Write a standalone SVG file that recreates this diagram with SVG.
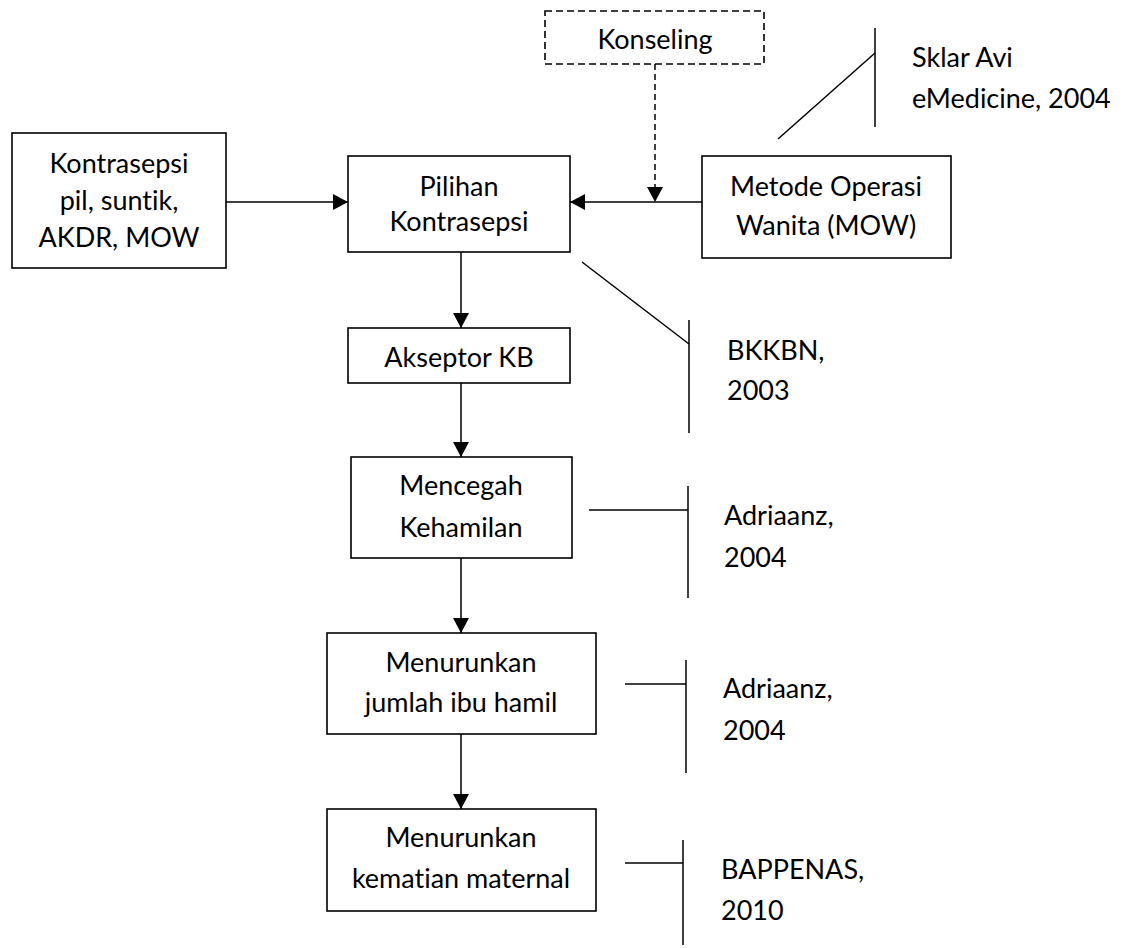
<svg xmlns="http://www.w3.org/2000/svg" width="1126" height="948" viewBox="0 0 1126 948">
<style>
  .box { fill: #ffffff; stroke: #000000; stroke-width: 1.6; }
  .dash { fill: #ffffff; stroke: #000000; stroke-width: 1.6; stroke-dasharray: 7 4; }
  .ln { fill: none; stroke: #000000; stroke-width: 1.5; }
  .arrow { fill: none; stroke: #000000; stroke-width: 1.5; marker-end: url(#ah); }
  .darrow { fill: none; stroke: #000000; stroke-width: 1.5; stroke-dasharray: 6 4; marker-end: url(#ah); }
  text { font-family: Lato, "Open Sans", "Liberation Sans", sans-serif; font-size: 27px; fill: #000000; font-variant-ligatures: none; }
  .c { text-anchor: middle; }
</style>
<defs>
  <marker id="ah" markerUnits="userSpaceOnUse" markerWidth="17" markerHeight="17" viewBox="0 0 17 17" refX="16" refY="8.5" orient="auto">
    <path d="M1,0.5 L16,8.5 L1,16.5 Z" fill="#000000"/>
  </marker>
</defs>
<rect width="1126" height="948" fill="#ffffff"/>

<g id="connectors">
  <line class="arrow" x1="226" y1="202" x2="348" y2="202"/>
  <line class="arrow" x1="702" y1="202" x2="570" y2="202"/>
  <line class="darrow" x1="655" y1="64" x2="655" y2="202"/>
  <line class="arrow" x1="461" y1="252" x2="461" y2="328"/>
  <line class="arrow" x1="461" y1="383" x2="461" y2="457"/>
  <line class="arrow" x1="461" y1="558" x2="461" y2="633"/>
  <line class="arrow" x1="461" y1="734" x2="461" y2="809"/>
  <line class="ln" x1="875" y1="28" x2="875" y2="127"/>
  <line class="ln" x1="778" y1="139" x2="875" y2="53"/>
  <line class="ln" x1="689" y1="320" x2="689" y2="433"/>
  <line class="ln" x1="582" y1="262" x2="689" y2="344"/>
  <line class="ln" x1="688" y1="486" x2="688" y2="598"/>
  <line class="ln" x1="589" y1="510" x2="688" y2="510"/>
  <line class="ln" x1="686" y1="660" x2="686" y2="773"/>
  <line class="ln" x1="625" y1="684" x2="686" y2="684"/>
  <line class="ln" x1="683" y1="840" x2="683" y2="945"/>
  <line class="ln" x1="625" y1="863" x2="683" y2="863"/>
</g>

<g id="konseling">
  <rect class="dash" x="545" y="11" width="219" height="53"/>
  <text class="c" x="655" y="49">Konseling</text>
</g>
<g id="kontrasepsi-jenis">
  <rect class="box" x="12" y="133" width="214" height="135"/>
  <text class="c" x="119" y="173">Kontrasepsi</text>
  <text class="c" x="119" y="210">pil, suntik,</text>
  <text class="c" x="119" y="247">AKDR, MOW</text>
</g>
<g id="pilihan">
  <rect class="box" x="348" y="156" width="222" height="96"/>
  <text class="c" x="459" y="196">Pilihan</text>
  <text class="c" x="459" y="231">Kontrasepsi</text>
</g>
<g id="mow">
  <rect class="box" x="702" y="156" width="249" height="102"/>
  <text class="c" x="826" y="196">Metode Operasi</text>
  <text class="c" x="826" y="235">Wanita (MOW)</text>
</g>
<g id="akseptor">
  <rect class="box" x="348" y="328" width="222" height="55"/>
  <text class="c" x="459" y="367">Akseptor KB</text>
</g>
<g id="mencegah">
  <rect class="box" x="351" y="457" width="221" height="101"/>
  <text class="c" x="461" y="495">Mencegah</text>
  <text class="c" x="461" y="537">Kehamilan</text>
</g>
<g id="menurunkan-jumlah">
  <rect class="box" x="327" y="633" width="269" height="101"/>
  <text class="c" x="461" y="672">Menurunkan</text>
  <text class="c" x="461" y="712">jumlah ibu hamil</text>
</g>
<g id="menurunkan-kematian">
  <rect class="box" x="327" y="809" width="269" height="102"/>
  <text class="c" x="461" y="847">Menurunkan</text>
  <text class="c" x="461" y="888">kematian maternal</text>
</g>

<g id="ref-sklar">
  <text x="912" y="67">Sklar Avi</text>
  <text x="912" y="108">eMedicine, 2004</text>
</g>
<g id="ref-bkkbn">
  <text x="727" y="360">BKKBN,</text>
  <text x="727" y="400">2003</text>
</g>
<g id="ref-adriaanz-1">
  <text x="724" y="525">Adriaanz,</text>
  <text x="724" y="567">2004</text>
</g>
<g id="ref-adriaanz-2">
  <text x="723" y="698">Adriaanz,</text>
  <text x="723" y="740">2004</text>
</g>
<g id="ref-bappenas">
  <text x="721" y="879">BAPPENAS,</text>
  <text x="721" y="920">2010</text>
</g>
</svg>
